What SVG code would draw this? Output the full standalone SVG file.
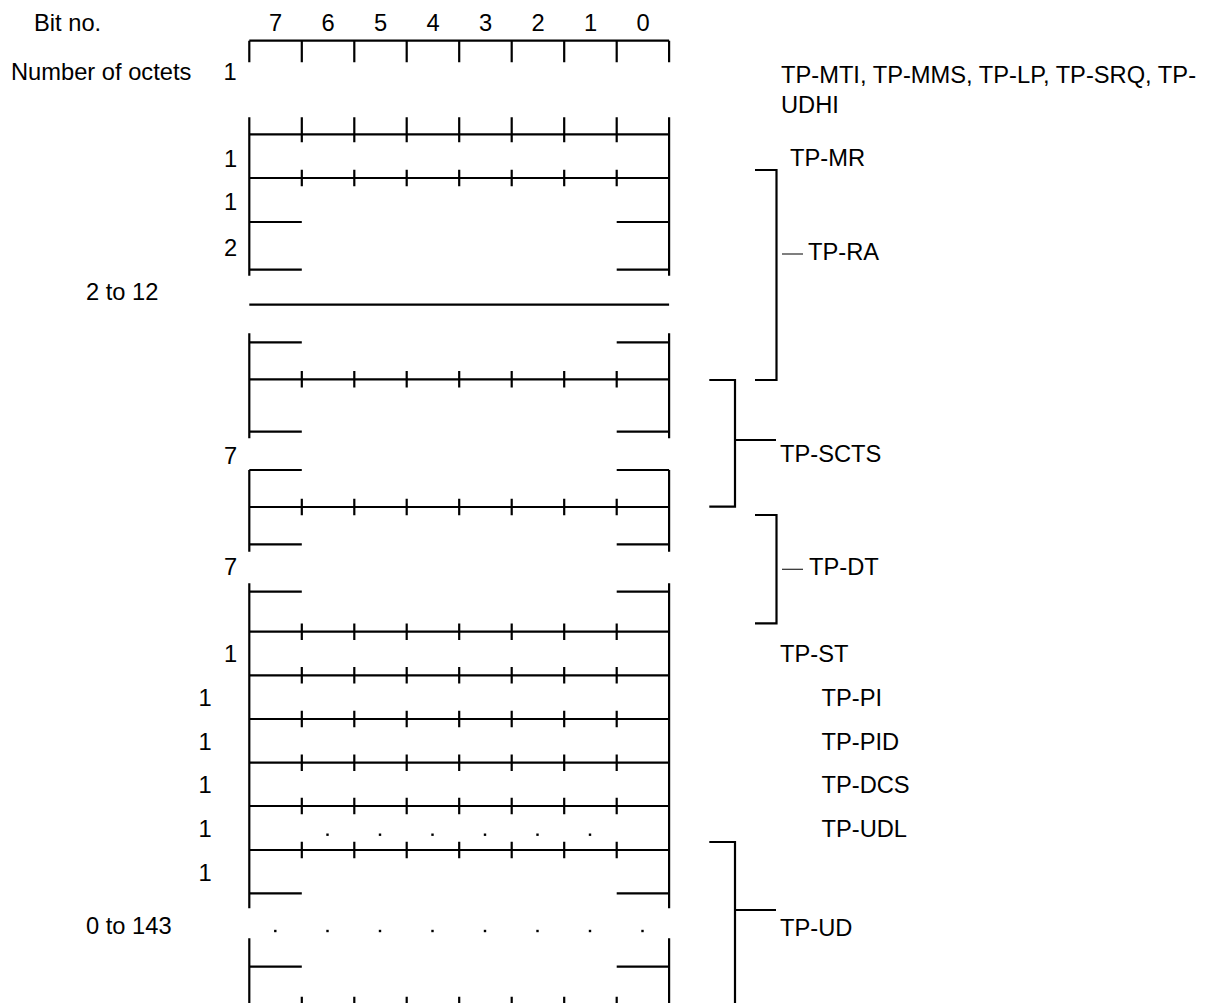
<svg xmlns="http://www.w3.org/2000/svg" xmlns:xlink="http://www.w3.org/1999/xlink" width="1206" height="1003" viewBox="0 0 1206 1003">
<style>
text{font-family:"Liberation Sans",Arial,sans-serif;font-size:23.7px;fill:#000}
.m{text-anchor:middle}
.ln{stroke:#000;stroke-width:2.2;fill:none}
.thin{stroke:#000;stroke-width:1.1;fill:none}
.dot{fill:#000}
</style>
<defs>
<path id="t7" d="M301.8,-8.3V8.3M354.3,-8.3V8.3M406.7,-8.3V8.3M459.2,-8.3V8.3M511.7,-8.3V8.3M564.2,-8.3V8.3M616.7,-8.3V8.3"/>
<path id="hl" d="M249.3,0H669.1"/>
<path id="st" d="M249.3,0H301.8M616.7,0H669.1"/>
</defs>
<rect width="1206" height="1003" fill="#fff"/>

<g id="header">
<text x="34" y="30.5">Bit no.</text>
<text class="m" x="275.5" y="30.5">7</text>
<text class="m" x="328" y="30.5">6</text>
<text class="m" x="380.5" y="30.5">5</text>
<text class="m" x="433" y="30.5">4</text>
<text class="m" x="485.5" y="30.5">3</text>
<text class="m" x="538" y="30.5">2</text>
<text class="m" x="590.5" y="30.5">1</text>
<text class="m" x="643" y="30.5">0</text>
<text x="11" y="79.5">Number of  octets</text>
</g>

<g id="grid" class="ln">
<use href="#hl" y="40.7"/>
<path d="M249.3,40.7V62.3M301.8,40.7V62.3M354.3,40.7V62.3M406.7,40.7V62.3M459.2,40.7V62.3M511.7,40.7V62.3M564.2,40.7V62.3M616.7,40.7V62.3M669.1,40.7V62.3"/>
<path d="M301.8,117.3V142.3M354.3,117.3V142.3M406.7,117.3V142.3M459.2,117.3V142.3M511.7,117.3V142.3M564.2,117.3V142.3M616.7,117.3V142.3"/>
<path d="M249.3,117.3V275.7M669.1,117.3V275.7M249.3,333.3V438.3M669.1,333.3V438.3M249.3,470V551.7M669.1,470V551.7M249.3,583.3V908.3M669.1,583.3V908.3M249.3,938.3V1003M669.1,938.3V1003"/>
<use href="#hl" y="134.3"/>
<use href="#hl" y="178"/>
<use href="#hl" y="304.7"/>
<use href="#hl" y="379.3"/>
<use href="#hl" y="507"/>
<use href="#hl" y="631.7"/>
<use href="#hl" y="675.3"/>
<use href="#hl" y="719"/>
<use href="#hl" y="762.7"/>
<use href="#hl" y="806"/>
<use href="#hl" y="850"/>
<use href="#t7" y="178"/>
<use href="#t7" y="379.3"/>
<use href="#t7" y="507"/>
<use href="#t7" y="631.7"/>
<use href="#t7" y="675.3"/>
<use href="#t7" y="719"/>
<use href="#t7" y="762.7"/>
<use href="#t7" y="806"/>
<use href="#t7" y="850"/>
<path d="M301.8,996.7V1003M354.3,996.7V1003M406.7,996.7V1003M459.2,996.7V1003M511.7,996.7V1003M564.2,996.7V1003M616.7,996.7V1003"/>
<use href="#st" y="222"/>
<use href="#st" y="269.7"/>
<use href="#st" y="342.3"/>
<use href="#st" y="431.7"/>
<use href="#st" y="470"/>
<use href="#st" y="544.3"/>
<use href="#st" y="591.7"/>
<use href="#st" y="893.3"/>
<use href="#st" y="966.7"/>
</g>

<g id="dots" class="dot">
<rect x="326.3" y="833.5" width="2.4" height="2.4"/>
<rect x="378.8" y="833.5" width="2.4" height="2.4"/>
<rect x="431.3" y="833.5" width="2.4" height="2.4"/>
<rect x="483.8" y="833.5" width="2.4" height="2.4"/>
<rect x="536.3" y="833.5" width="2.4" height="2.4"/>
<rect x="588.8" y="833.5" width="2.4" height="2.4"/>
<rect x="274.1" y="929.8" width="2.4" height="2.4"/>
<rect x="326.3" y="929.8" width="2.4" height="2.4"/>
<rect x="378.8" y="929.8" width="2.4" height="2.4"/>
<rect x="431.3" y="929.8" width="2.4" height="2.4"/>
<rect x="483.8" y="929.8" width="2.4" height="2.4"/>
<rect x="536.3" y="929.8" width="2.4" height="2.4"/>
<rect x="588.8" y="929.8" width="2.4" height="2.4"/>
<rect x="641.3" y="929.8" width="2.4" height="2.4"/>
</g>

<g id="octet-counts">
<text class="m" x="230" y="79.5">1</text>
<text class="m" x="230.5" y="166.5">1</text>
<text class="m" x="230.5" y="210">1</text>
<text class="m" x="230.5" y="255.5">2</text>
<text x="86" y="300">2 to 12</text>
<text class="m" x="230.5" y="464">7</text>
<text class="m" x="230.5" y="575">7</text>
<text class="m" x="230.5" y="661.5">1</text>
<text class="m" x="205" y="705.5">1</text>
<text class="m" x="205" y="749.5">1</text>
<text class="m" x="205" y="792.5">1</text>
<text class="m" x="205" y="836.5">1</text>
<text class="m" x="205" y="880.5">1</text>
<text x="86" y="933.5">0 to 143</text>
</g>

<g id="connectors" class="ln">
<path d="M755,170H776.5V380H755"/>
<path d="M709.3,380H735V506.7H709.3M735,440H776"/>
<path d="M755,515H776.5V623.3H755"/>
<path d="M709.3,842H735V1003M735,910H776"/>
<path class="thin" d="M782,254H803M782,569.3H803"/>
</g>

<g id="field-labels">
<text x="781" y="82.5">TP-MTI, TP-MMS, TP-LP, TP-SRQ, TP-</text>
<text x="781" y="112.5">UDHI</text>
<text x="790" y="165.5">TP-MR</text>
<text x="808" y="260">TP-RA</text>
<text x="780" y="462">TP-SCTS</text>
<text x="809" y="575">TP-DT</text>
<text x="780" y="662">TP-ST</text>
<text x="821.5" y="705.5">TP-PI</text>
<text x="821.5" y="749.5">TP-PID</text>
<text x="821.5" y="792.5">TP-DCS</text>
<text x="821.5" y="836.5">TP-UDL</text>
<text x="780" y="935.5">TP-UD</text>
</g>
</svg>
